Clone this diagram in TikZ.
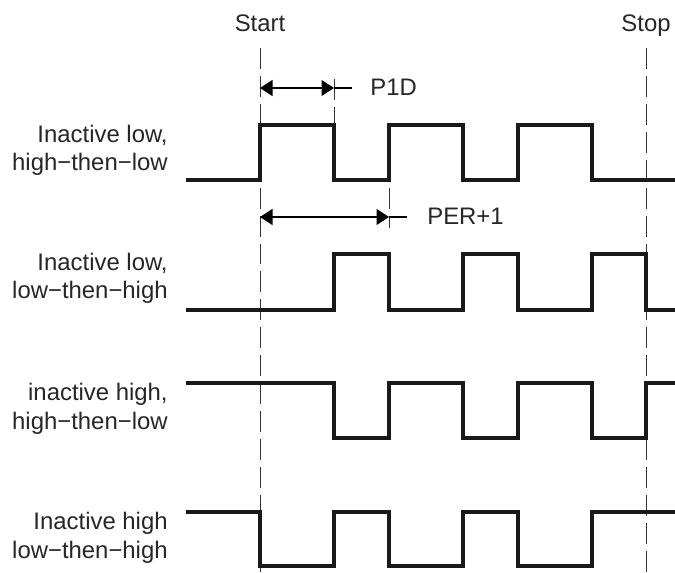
\documentclass[tikz,border=0pt]{standalone}
\usepackage{fontspec}
\setmainfont{Liberation Sans}
\usetikzlibrary{arrows.meta}

\tikzset{
  signal/.style={line width=1.9pt, line join=miter, color=black!90},
  marker/.style={dash pattern=on 11.9pt off 4pt, line width=0.5pt, color=black!80},
  span/.style={{Triangle[length=2.5mm,width=3.2mm]}-{Triangle[length=2.5mm,width=3.2mm]}, line width=0.6pt},
  tick/.style={line width=0.6pt},
  lbl/.style={font=\fontsize{13.6}{16.5}\selectfont, inner sep=0pt, text=black!85}
}

\begin{document}
\begin{tikzpicture}[x=0.02cm, y=-0.02cm]
    \useasboundingbox (0, 0) rectangle (675, 573);

    % start and stop markers
    \node[lbl, anchor=base] (start) at (260, 32) {Start};
    \node[lbl, anchor=base] (stop)  at (646, 32) {Stop};
    \coordinate (starttop) at (260, 48);
    \coordinate (startbot) at (260, 573);
    \coordinate (stoptop)  at (646, 48);
    \coordinate (stopbot)  at (646, 573);
    \draw[marker] (starttop) -- (startbot);
    \draw[marker] (stoptop) -- (stopbot);

    % P1D span
    \coordinate (p1da) at (260, 88);
    \coordinate (p1db) at (334, 88);
    \coordinate (p1dc) at (352, 88);
    \draw[marker] (334, 79) -- (334, 125);
    \draw[span] (p1da) -- (p1db);
    \draw[tick] (p1db) -- (p1dc);
    \node[lbl, anchor=base west] (p1d) at (370, 96) {P1D};

    % PER+1 span
    \coordinate (pera) at (260, 217);
    \coordinate (perb) at (389, 217);
    \coordinate (perc) at (407, 217);
    \draw[marker] (389, 188) -- (389, 228);
    \draw[span] (pera) -- (perb);
    \draw[tick] (perb) -- (perc);
    \node[lbl, anchor=base west] (per) at (427, 225) {PER+1};

    % waveform labels
    \node[lbl, anchor=base east, align=right] (lowhl) at (168, 171) {Inactive low,\\high−then−low};
    \node[lbl, anchor=base east, align=right] (lowlh) at (168, 299) {Inactive low,\\low−then−high};
    \node[lbl, anchor=base east, align=right] (highhl) at (168, 429) {inactive high,\\high−then−low};
    \node[lbl, anchor=base east, align=right] (highlh) at (168, 558) {Inactive high\\low−then−high};

    % inactive low, high-then-low
    \draw[signal] (186, 180) -- (260, 180) -- (260, 125) -- (334, 125) -- (334, 180)
        -- (389, 180) -- (389, 125) -- (463, 125) -- (463, 180) -- (518, 180)
        -- (518, 125) -- (592, 125) -- (592, 180) -- (675, 180);

    % inactive low, low-then-high
    \draw[signal] (186, 310) -- (334, 310) -- (334, 254) -- (389, 254) -- (389, 310)
        -- (463, 310) -- (463, 254) -- (518, 254) -- (518, 310) -- (592, 310)
        -- (592, 254) -- (646, 254) -- (646, 310) -- (675, 310);

    % inactive high, high-then-low
    \draw[signal] (186, 383) -- (334, 383) -- (334, 438) -- (389, 438) -- (389, 383)
        -- (463, 383) -- (463, 438) -- (518, 438) -- (518, 383) -- (592, 383)
        -- (592, 438) -- (646, 438) -- (646, 383) -- (675, 383);

    % inactive high, low-then-high
    \draw[signal] (186, 512) -- (260, 512) -- (260, 566) -- (334, 566) -- (334, 512)
        -- (389, 512) -- (389, 566) -- (463, 566) -- (463, 512) -- (518, 512)
        -- (518, 566) -- (592, 566) -- (592, 512) -- (675, 512);

\end{tikzpicture}
\end{document}
